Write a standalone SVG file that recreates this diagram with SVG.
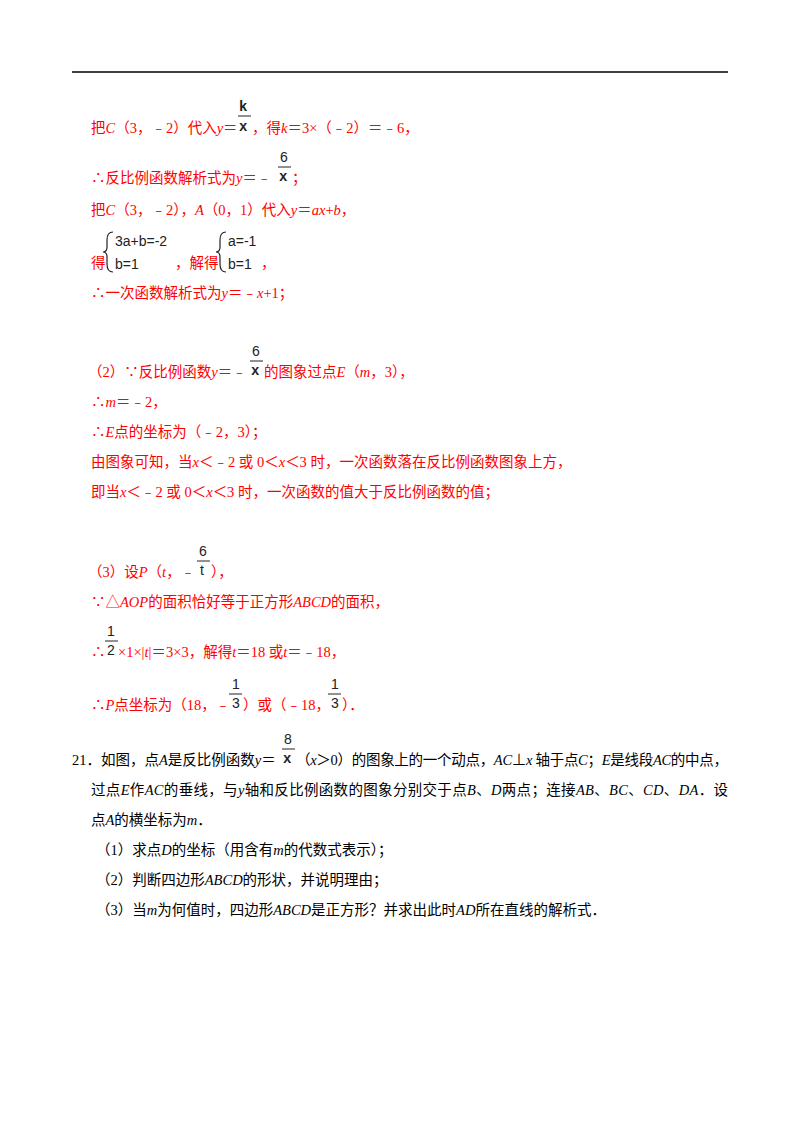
<svg xmlns="http://www.w3.org/2000/svg" width="800" height="1132" viewBox="0 0 800 1132">
<style>
text{font-family:"Liberation Serif","Noto Sans CJK SC",serif;font-size:14.5px}
.r{fill:#ff0000}
.k{fill:#000}
.i{font-style:italic}
.f{font-family:"Liberation Sans","DejaVu Sans",sans-serif;font-size:14px;fill:#222}
.fs{font-family:"Liberation Mono",monospace;font-size:14px;fill:#222;font-weight:bold}
.bar{stroke:#222;stroke-width:1}
</style>
<rect width="800" height="1132" fill="#fff"/>
<line x1="72" y1="72" x2="728" y2="72" stroke="#000" stroke-width="1.5"/>
<g id="s1">
<text class="r" x="91" y="133">把<tspan class="i">C</tspan>（3，﹣2）代入<tspan class="i">y</tspan>＝</text>
<text class="fs" x="239" y="111">k</text><line class="bar" x1="238" y1="116" x2="251" y2="116"/><text class="fs" x="239" y="131">x</text>
<text class="r" x="252" y="133">，得<tspan class="i">k</tspan>＝3×（﹣2）＝﹣6，</text>
<text class="r" x="91" y="183">∴反比例函数解析式为<tspan class="i">y</tspan>＝﹣</text>
<text class="f" x="280" y="162">6</text><line class="bar" x1="278" y1="167" x2="291" y2="167"/><text class="fs" x="279" y="181">x</text>
<text class="r" x="292" y="183">；</text>
<text class="r" x="91" y="215">把<tspan class="i">C</tspan>（3，﹣2），<tspan class="i">A</tspan>（0，1）代入<tspan class="i">y</tspan>＝<tspan class="i">ax</tspan>+<tspan class="i">b</tspan>，</text>
<text class="r" x="91" y="268">得</text>
<path d="M113 232 Q107 232 107 240 L107 247 Q107 252 103 252 Q107 252 107 257 L107 264 Q107 272 113 272" fill="none" stroke="#222" stroke-width="1.2"/>
<text class="f" x="115" y="246">3a+b=-2</text>
<text class="f" x="115" y="269">b=1</text>
<text class="r" x="175" y="268">，解得</text>
<path d="M226 232 Q220 232 220 240 L220 247 Q220 252 216 252 Q220 252 220 257 L220 264 Q220 272 226 272" fill="none" stroke="#222" stroke-width="1.2"/>
<text class="f" x="228" y="246">a=-1</text>
<text class="f" x="228" y="269">b=1</text>
<text class="r" x="261" y="268">，</text>
<text class="r" x="91" y="298">∴一次函数解析式为<tspan class="i">y</tspan>＝﹣<tspan class="i">x</tspan>+1；</text>
</g>
<g id="s2">
<text class="r" x="88" y="377">（2）∵反比例函数<tspan class="i">y</tspan>＝﹣</text>
<text class="f" x="252" y="356">6</text><line class="bar" x1="250" y1="361" x2="263" y2="361"/><text class="fs" x="251" y="375">x</text>
<text class="r" x="264" y="377">的图象过点<tspan class="i">E</tspan>（<tspan class="i">m</tspan>，3），</text>
<text class="r" x="91" y="407">∴<tspan class="i">m</tspan>＝﹣2，</text>
<text class="r" x="91" y="437">∴<tspan class="i">E</tspan>点的坐标为（﹣2，3）；</text>
<text class="r" x="91" y="467">由图象可知，当<tspan class="i">x</tspan>＜﹣2 或 0＜<tspan class="i">x</tspan>＜3 时，一次函数落在反比例函数图象上方，</text>
<text class="r" x="91" y="497">即当<tspan class="i">x</tspan>＜﹣2 或 0＜<tspan class="i">x</tspan>＜3 时，一次函数的值大于反比例函数的值；</text>
</g>
<g id="s3">
<text class="r" x="88" y="577">（3）设<tspan class="i">P</tspan>（<tspan class="i">t</tspan>，﹣</text>
<text class="f" x="199" y="556">6</text><line class="bar" x1="197" y1="561" x2="210" y2="561"/><text class="f" x="200" y="575">t</text>
<text class="r" x="211" y="577">），</text>
<text class="r" x="91" y="607">∵△<tspan class="i">AOP</tspan>的面积恰好等于正方形<tspan class="i">ABCD</tspan>的面积，</text>
<text class="r" x="91" y="657">∴</text>
<text class="f" x="107" y="636">1</text><line class="bar" x1="105" y1="641" x2="118" y2="641"/><text class="f" x="107" y="655">2</text>
<text class="r" x="118" y="657">×1×|<tspan class="i">t</tspan>|＝3×3，解得<tspan class="i">t</tspan>＝18 或<tspan class="i">t</tspan>＝﹣18，</text>
<text class="r" x="91" y="710">∴<tspan class="i">P</tspan>点坐标为（18，﹣</text>
<text class="f" x="232" y="689">1</text><line class="bar" x1="229" y1="694" x2="242" y2="694"/><text class="f" x="232" y="708">3</text>
<text class="r" x="243" y="710">）或（﹣18，</text>
<text class="f" x="331" y="689">1</text><line class="bar" x1="328" y1="694" x2="341" y2="694"/><text class="f" x="331" y="708">3</text>
<text class="r" x="342" y="710">）．</text>
</g>
<g id="q21">
<text class="k" x="72" y="765">21．如图，点<tspan class="i">A</tspan>是反比例函数<tspan class="i">y</tspan>＝</text>
<text class="f" x="284" y="744">8</text><line class="bar" x1="282" y1="749" x2="295" y2="749"/><text class="fs" x="283" y="763">x</text>
<text class="k" x="296" y="765" textLength="432">（<tspan class="i">x</tspan>＞0）的图象上的一个动点，<tspan class="i">AC</tspan>⊥<tspan class="i">x</tspan> 轴于点<tspan class="i">C</tspan>；<tspan class="i">E</tspan>是线段<tspan class="i">AC</tspan>的中点，</text>
<text class="k" x="91" y="795" textLength="637">过点<tspan class="i">E</tspan>作<tspan class="i">AC</tspan>的垂线，与<tspan class="i">y</tspan>轴和反比例函数的图象分别交于点<tspan class="i">B</tspan>、<tspan class="i">D</tspan>两点；连接<tspan class="i">AB</tspan>、<tspan class="i">BC</tspan>、<tspan class="i">CD</tspan>、<tspan class="i">DA</tspan>．设</text>
<text class="k" x="91" y="825">点<tspan class="i">A</tspan>的横坐标为<tspan class="i">m</tspan>．</text>
<text class="k" x="96" y="855">（1）求点<tspan class="i">D</tspan>的坐标（用含有<tspan class="i">m</tspan>的代数式表示）；</text>
<text class="k" x="96" y="885">（2）判断四边形<tspan class="i">ABCD</tspan>的形状，并说明理由；</text>
<text class="k" x="96" y="915">（3）当<tspan class="i">m</tspan>为何值时，四边形<tspan class="i">ABCD</tspan>是正方形？并求出此时<tspan class="i">AD</tspan>所在直线的解析式．</text>
</g>
</svg>
